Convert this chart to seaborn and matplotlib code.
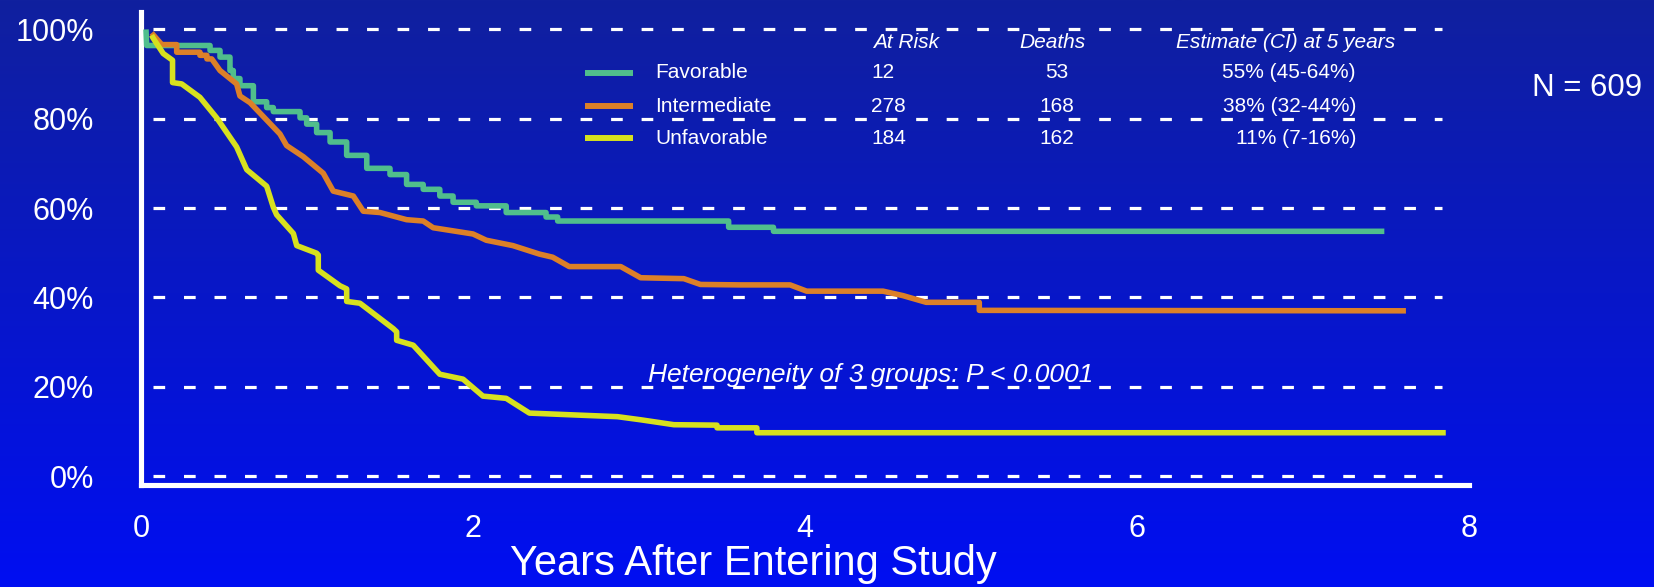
import numpy as np
import pandas as pd
import matplotlib.pyplot as plt
import seaborn as sns
from matplotlib.lines import Line2D

# survival curves (years after entering study, % alive)
fav_years = [0.03, 0.034, 0.416, 0.416, 0.476, 0.476, 0.536, 0.536, 0.556, 0.556,
             0.596, 0.596, 0.677, 0.677, 0.757, 0.757, 0.797, 0.797, 0.958, 0.958,
             0.998, 0.998, 1.058, 1.058, 1.139, 1.139, 1.239, 1.239, 1.36, 1.36,
             1.50, 1.50, 1.60, 1.60, 1.70, 1.70, 1.80, 1.80, 1.88, 1.88,
             2.02, 2.02, 2.20, 2.20, 2.44, 2.44, 2.51, 2.51, 3.54, 3.54,
             3.81, 3.81, 7.49]
fav_surv = [100, 96.4, 96.4, 95.3, 95.3, 93.8, 93.8, 90.8, 90.8, 89.0,
            89.0, 87.4, 87.4, 83.8, 83.8, 82.5, 82.5, 81.6, 81.6, 80.2,
            80.2, 78.8, 78.8, 76.9, 76.9, 74.8, 74.8, 71.8, 71.8, 68.9,
            68.9, 67.5, 67.5, 65.3, 65.3, 64.2, 64.2, 62.7, 62.7, 61.3,
            61.3, 60.5, 60.5, 59.0, 59.0, 58.0, 58.0, 57.1, 57.1, 55.7,
            55.7, 54.8, 54.8]

int_years = [0.064, 0.125, 0.215, 0.215, 0.355, 0.355, 0.397, 0.397, 0.426, 0.476,
             0.576, 0.596, 0.657, 0.837, 0.877, 0.978, 1.098, 1.158, 1.279, 1.339,
             1.44, 1.60, 1.70, 1.76, 2.00, 2.08, 2.24, 2.40, 2.48, 2.58,
             2.89, 3.01, 3.27, 3.37, 3.61, 3.91, 4.01, 4.47, 4.59, 4.73,
             5.05, 5.05, 7.62]
int_surv = [99.2, 96.6, 96.6, 94.9, 94.9, 94.2, 94.2, 93.4, 93.4, 90.8,
            87.8, 85.1, 83.6, 76.6, 74.0, 71.5, 67.8, 63.8, 62.7, 59.3,
            59.0, 57.4, 57.1, 55.6, 54.2, 52.8, 51.6, 49.7, 49.0, 46.9,
            46.9, 44.4, 44.2, 42.9, 42.8, 42.8, 41.4, 41.4, 40.4, 38.9,
            38.9, 37.1, 37.0]

unf_years = [0.064, 0.074, 0.134, 0.19, 0.19, 0.245, 0.355, 0.456, 0.576, 0.637,
             0.757, 0.797, 0.817, 0.918, 0.938, 1.058, 1.068, 1.068, 1.199, 1.239,
             1.239, 1.319, 1.52, 1.54, 1.54, 1.64, 1.80, 1.94, 2.06, 2.20,
             2.34, 2.60, 2.87, 3.01, 3.21, 3.47, 3.47, 3.71, 3.71, 7.86]
unf_surv = [98.7, 98.0, 94.6, 93.1, 88.1, 87.8, 84.8, 80.2, 73.7, 68.6,
            64.9, 60.2, 58.5, 54.3, 51.6, 49.9, 49.5, 46.1, 42.6, 41.9,
            39.1, 38.7, 33.0, 32.3, 30.4, 29.3, 22.8, 21.7, 17.9, 17.4,
            14.1, 13.7, 13.3, 12.6, 11.5, 11.4, 10.8, 10.8, 9.7, 9.7]

groups = ['Favorable', 'Intermediate', 'Unfavorable']
colors = ['#50BE8C', '#DC8028', '#D7E11E']
at_risk = ['12', '278', '184']
deaths = ['53', '168', '162']
estimates = ['55% (45-64%)', '38% (32-44%)', '11% (7-16%)']
y_ticks = [0, 20, 40, 60, 80, 100]
x_ticks = [0, 2, 4, 6, 8]

df = pd.concat([
    pd.DataFrame({'years': fav_years, 'survival': fav_surv, 'group': groups[0]}),
    pd.DataFrame({'years': int_years, 'survival': int_surv, 'group': groups[1]}),
    pd.DataFrame({'years': unf_years, 'survival': unf_surv, 'group': groups[2]}),
], ignore_index=True)

sns.set_style('white')
plt.rcParams['font.family'] = ['Liberation Sans', 'DejaVu Sans']

W, H = 1654, 587
fig = plt.figure(figsize=(W / 100, H / 100), dpi=100)


def fx(x):
    return x / W


def fy(y):
    return 1 - y / H


# blue slide background, darker at the top
bg = fig.add_axes([0, 0, 1, 1], zorder=-10)
top = np.array([16, 32, 158]) / 255
bottom = np.array([0, 14, 242]) / 255
t = np.linspace(0, 1, 256)[:, None]
grad = top + (bottom - top) * t
bg.imshow(grad[:, None, :], aspect='auto', extent=[0, 1, 0, 1])
bg.axis('off')

ax = fig.add_axes([fx(141), fy(485), (1469 - 141) / W, (485 - 12) / H])
ax.set_facecolor('none')

# dashed white reference lines
ax.hlines(y_ticks, 0.072, 7.84, colors='white', lw=2.3,
          linestyles=[(0, (3.65, 5.9))], zorder=1)

sns.lineplot(data=df, x='years', y='survival', hue='group',
             palette=dict(zip(groups, colors)), estimator=None, sort=False,
             lw=4, legend=False, ax=ax, zorder=3, solid_capstyle='butt')

ax.set_xlim(0, 8)
ax.set_ylim(-2.0, 103.9)
ax.set_xticks(x_ticks)
ax.set_yticks(y_ticks)
ax.set_yticklabels([f'{v}%' for v in y_ticks])
ax.tick_params(length=0, colors='white', labelsize=22)
ax.tick_params(axis='y', pad=34)
ax.tick_params(axis='x', pad=21)
for s in ['top', 'right']:
    ax.spines[s].set_visible(False)
for s in ['left', 'bottom']:
    ax.spines[s].set_color('white')
    ax.spines[s].set_linewidth(3.7)

ax.set_ylabel('')
ax.set_xlabel('Years After Entering Study', fontsize=30, color='white')
ax.xaxis.label.set_verticalalignment('center')
ax.xaxis.set_label_coords((753 - 141) / 1328, (485 - 564) / 473)

# legend + table
hdr_y = 43
row_y = [73, 106, 138]
fig.text(fx(906), fy(hdr_y), 'At Risk', color='white', fontsize=15,
         style='italic', ha='center', va='center')
fig.text(fx(1052), fy(hdr_y), 'Deaths', color='white', fontsize=15,
         style='italic', ha='center', va='center')
fig.text(fx(1286), fy(hdr_y), 'Estimate (CI) at 5 years', color='white',
         fontsize=15, style='italic', ha='center', va='center')
for i, g in enumerate(groups):
    yy = row_y[i]
    fig.add_artist(Line2D([fx(585), fx(633)], [fy(yy), fy(yy)], color=colors[i],
                          lw=4.3, solid_capstyle='butt'))
    fig.text(fx(655), fy(yy), g, color='white', fontsize=15, va='center')
    fig.text(fx(871), fy(yy), at_risk[i], color='white', fontsize=15, va='center')
    fig.text(fx(1057), fy(yy), deaths[i], color='white', fontsize=15,
             ha='center', va='center')
    fig.text(fx(1356), fy(yy), estimates[i], color='white', fontsize=15,
             ha='right', va='center')

fig.text(fx(1587), fy(88), 'N = 609', color='white', fontsize=22.5,
         ha='center', va='center')
fig.text(fx(648), fy(375), 'Heterogeneity of 3 groups: P < 0.0001', color='white',
         fontsize=19, style='italic', va='center')

fig.savefig('out.png', dpi=100)
